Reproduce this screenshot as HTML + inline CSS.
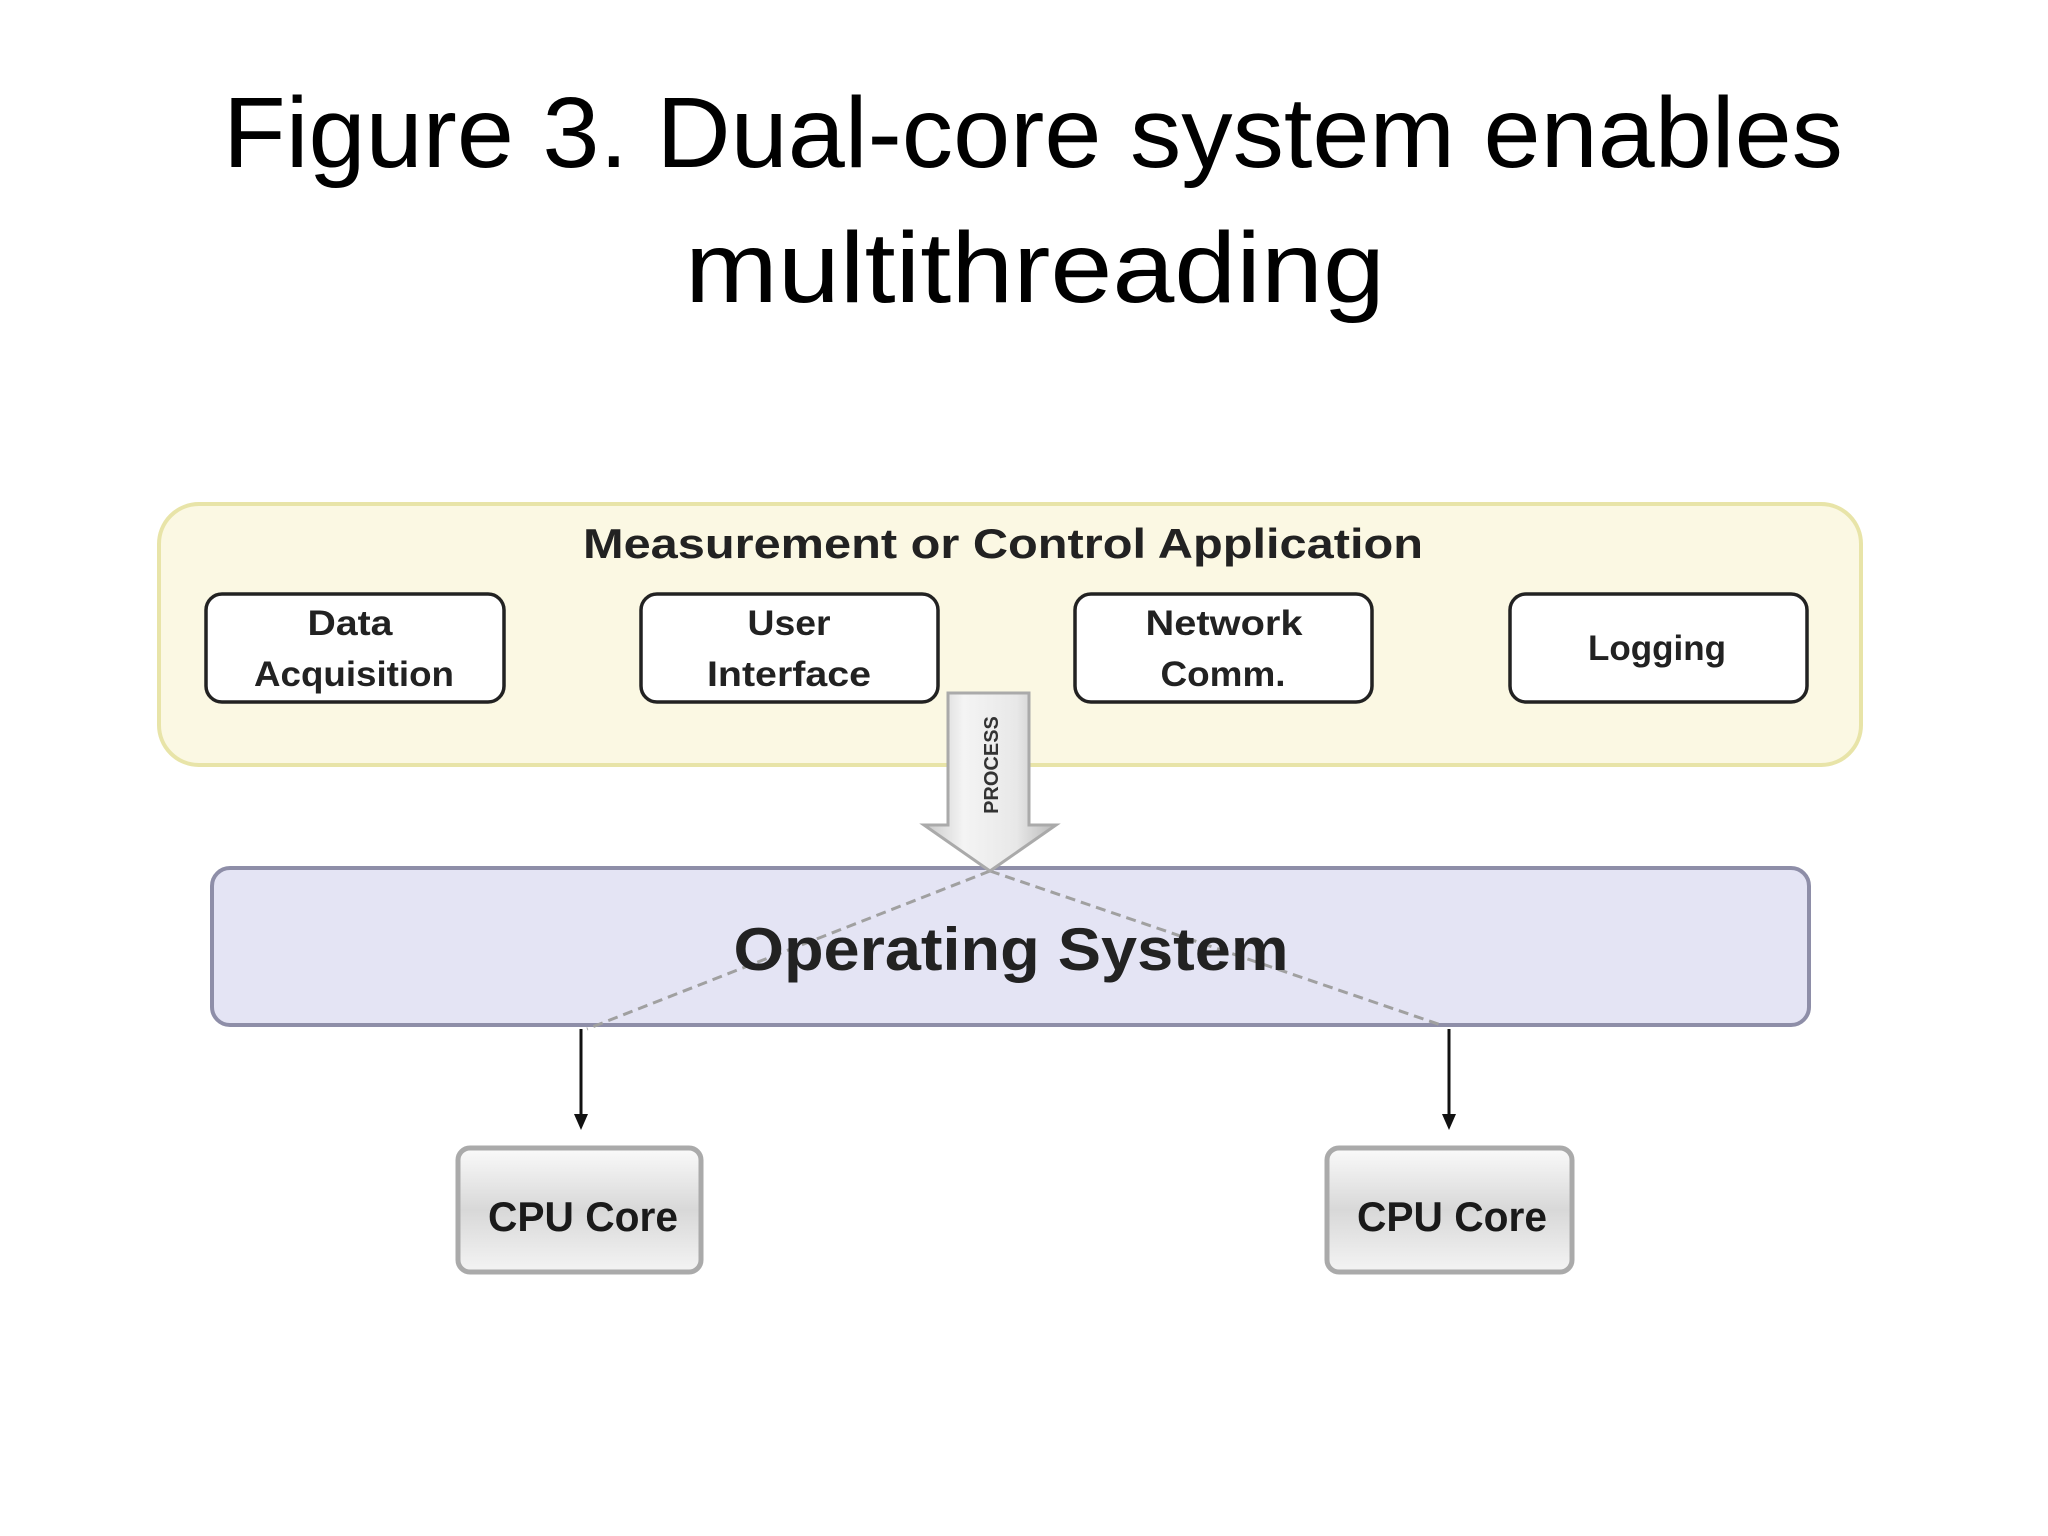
<!DOCTYPE html>
<html><head><meta charset="utf-8"><style>html,body{margin:0;padding:0;background:#fff}svg{display:block}</style></head>
<body>
<svg width="2048" height="1536" viewBox="0 0 2048 1536" xmlns="http://www.w3.org/2000/svg" font-family="Liberation Sans, sans-serif">
<defs>
<linearGradient id="cpu" x1="0" y1="0" x2="0" y2="1"><stop offset="0" stop-color="#fafafa"/><stop offset="0.5" stop-color="#d8d8d8"/><stop offset="1" stop-color="#f4f4f4"/></linearGradient>
<linearGradient id="arr" x1="0" y1="0" x2="1" y2="0"><stop offset="0" stop-color="#c8c8c8"/><stop offset="0.3" stop-color="#f4f4f4"/><stop offset="0.7" stop-color="#e8e8e8"/><stop offset="1" stop-color="#b8b8b8"/></linearGradient>
</defs>
<text x="1033" y="167" font-size="100" text-anchor="middle" textLength="1620" lengthAdjust="spacingAndGlyphs">Figure 3. Dual-core system enables</text>
<text x="1035" y="302" font-size="100" text-anchor="middle" textLength="700" lengthAdjust="spacingAndGlyphs">multithreading</text>

<rect x="159" y="504" width="1702" height="261" rx="40" fill="#fbf8e3" stroke="#e8e4a8" stroke-width="4"/>
<text x="1003" y="558" font-size="42" font-weight="bold" text-anchor="middle" textLength="840" lengthAdjust="spacingAndGlyphs" fill="#222">Measurement or Control Application</text>
<g fill="#fff" stroke="#222" stroke-width="3.5">
<rect x="206" y="594" width="298" height="108" rx="16"/>
<rect x="641" y="594" width="297" height="108" rx="16"/>
<rect x="1075" y="594" width="297" height="108" rx="16"/>
<rect x="1510" y="594" width="297" height="108" rx="16"/>
</g>
<g font-size="35" font-weight="bold" text-anchor="middle" fill="#222" lengthAdjust="spacingAndGlyphs">
<text x="350" y="635" textLength="85" lengthAdjust="spacingAndGlyphs">Data</text><text x="354" y="686" textLength="200" lengthAdjust="spacingAndGlyphs">Acquisition</text>
<text x="789" y="635" textLength="83" lengthAdjust="spacingAndGlyphs">User</text><text x="789" y="686" textLength="164" lengthAdjust="spacingAndGlyphs">Interface</text>
<text x="1224" y="635" textLength="157" lengthAdjust="spacingAndGlyphs">Network</text><text x="1223" y="686" textLength="125" lengthAdjust="spacingAndGlyphs">Comm.</text>
<text x="1657" y="660" textLength="138" lengthAdjust="spacingAndGlyphs">Logging</text>
</g>

<rect x="212" y="868" width="1597" height="157" rx="18" fill="#e4e4f4" stroke="#8e8ea8" stroke-width="4"/>
<g stroke="#a0a0a0" stroke-width="3" stroke-dasharray="10,6" fill="none">
<line x1="990" y1="871" x2="587" y2="1029"/><line x1="990" y1="871" x2="1441" y2="1025"/>
</g>
<text x="1011" y="970" font-size="60" font-weight="bold" text-anchor="middle" fill="#222" textLength="555" lengthAdjust="spacingAndGlyphs">Operating System</text>

<path d="M948 693 H1029 V825 H1056 L990 871 L924 825 H948 Z" fill="url(#arr)" stroke="#aaa" stroke-width="3"/>
<text transform="translate(998,765) rotate(-90)" font-size="20" font-weight="bold" text-anchor="middle" fill="#333">PROCESS</text>

<g stroke="#111" stroke-width="3"><line x1="581" y1="1029" x2="581" y2="1118"/><line x1="1449" y1="1029" x2="1449" y2="1118"/></g>
<g fill="#111"><path d="M574 1114 L588 1114 L581 1130 Z"/><path d="M1442 1114 L1456 1114 L1449 1130 Z"/></g>

<g stroke="#aaa" stroke-width="5" fill="url(#cpu)">
<rect x="458" y="1148" width="243" height="124" rx="12"/>
<rect x="1327" y="1148" width="245" height="124" rx="12"/>
</g>
<g font-size="42" font-weight="bold" text-anchor="middle" fill="#1a1a1a">
<text x="583" y="1231" textLength="190" lengthAdjust="spacingAndGlyphs">CPU Core</text>
<text x="1452" y="1231" textLength="190" lengthAdjust="spacingAndGlyphs">CPU Core</text>
</g>
</svg>
</body></html>
